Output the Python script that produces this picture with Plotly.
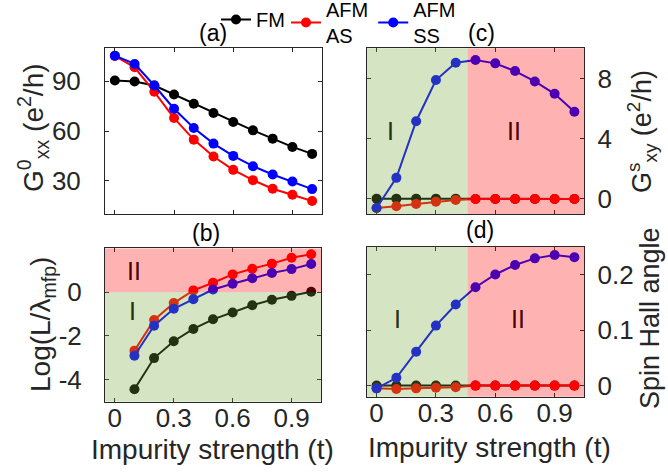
import plotly.graph_objects as go

W, H = 668, 475

# ---------------- data ----------------
x_full = [0.0, 0.1, 0.2, 0.3, 0.4, 0.5, 0.6, 0.7, 0.8, 0.9, 1.0]
x_log = [0.1, 0.2, 0.3, 0.4, 0.5, 0.6, 0.7, 0.8, 0.9, 1.0]

# (a) G0_xx (e^2/h)
gxx_fm = [90.4, 89.8, 87.4, 82.0, 76.4, 70.8, 65.4, 60.4, 55.4, 50.4, 46.2]
gxx_as = [105.2, 98.4, 83.6, 67.8, 54.8, 44.6, 36.6, 30.4, 25.2, 21.6, 17.8]
gxx_ss = [105.4, 100.4, 87.4, 73.4, 61.8, 52.4, 45.0, 38.8, 33.8, 29.6, 25.0]

# (b) Log(L/lambda_mfp)
log_fm = [-4.43, -3.01, -2.24, -1.68, -1.24, -0.93, -0.60, -0.35, -0.17, 0.02]
log_as = [-2.67, -1.27, -0.50, 0.08, 0.43, 0.81, 1.07, 1.30, 1.57, 1.73]
log_ss = [-2.90, -1.53, -0.76, -0.32, 0.12, 0.38, 0.63, 0.87, 1.05, 1.28]

# (c) Gs_xy (e^2/h)
gsxy_fm = [0.02, 0.02, 0.02, 0.02, 0.02, 0.0, 0.0, 0.0, 0.0, 0.0, 0.0]
gsxy_as = [-0.6, -0.49, -0.33, -0.18, -0.07, 0.0, 0.0, 0.0, 0.0, 0.0, 0.0]
gsxy_ss = [-0.6, 1.4, 5.16, 7.89, 9.04, 9.22, 9.0, 8.49, 7.8, 6.98, 5.79]

# (d) spin Hall angle
sha_fm = [0.0, 0.0, 0.0, 0.0, 0.0, 0.0, 0.0, 0.0, 0.0, 0.0, 0.0]
sha_as = [-0.005, -0.006, -0.005, -0.004, -0.003, 0.0, 0.0, 0.0, 0.0, 0.0, 0.0]
sha_ss = [-0.005, 0.014, 0.061, 0.108, 0.146, 0.177, 0.200, 0.217, 0.229, 0.235, 0.231]

series_names = ["FM", "AFM<br>AS", "AFM<br>SS"]
series_colors = ["#000000", "#ff0000", "#0000ff"]
series_legends = ["legend", "legend2", "legend2"]

x_tickvals = [0, 0.3, 0.6, 0.9]
x_ticktext = ["0", "0.3", "0.6", "0.9"]
a_tickvals = [30, 60, 90]
b_tickvals = [-4, -2, 0]
b_ticktext = ["-4", "-2", "0"]
c_tickvals = [0, 4, 8]
d_tickvals = [0, 0.1, 0.2]
d_ticktext = ["0", "0.1", "0.2"]
boundary_x = 0.46

FONT = "Liberation Sans, Arial, sans-serif"
AX = "#262626"

fig = go.Figure()

panels = [
    ("x", "y", x_full, [gxx_fm, gxx_as, gxx_ss], True),
    ("x2", "y2", x_log, [log_fm, log_as, log_ss], False),
    ("x3", "y3", x_full, [gsxy_fm, gsxy_as, gsxy_ss], False),
    ("x4", "y4", x_full, [sha_fm, sha_as, sha_ss], False),
]
for xa, ya, xs, ys_list, show in panels:
    for name, col, lg, ys in zip(series_names, series_colors, series_legends, ys_list):
        fig.add_trace(go.Scatter(
            x=xs, y=ys, xaxis=xa, yaxis=ya, mode="lines+markers",
            name=name, legendgroup=name, showlegend=show, legend=lg,
            line=dict(color=col, width=2),
            marker=dict(color=col, size=10),
        ))

def px_x(p):
    return p / W

def px_y(p):
    return 1 - p / H

common_x = dict(range=[-0.05, 1.05], tickvals=x_tickvals, ticktext=x_ticktext,
                ticks="inside", ticklen=4, tickcolor=AX, showline=True,
                linecolor=AX, linewidth=1, mirror="ticks", showgrid=False,
                zeroline=False, tickfont=dict(size=26, color=AX, family=FONT),
                ticklabelstandoff=-7)
common_y = dict(ticks="inside", ticklen=4, tickcolor=AX, showline=True,
                linecolor=AX, linewidth=1, mirror="ticks", showgrid=False,
                zeroline=False, tickfont=dict(size=26, color=AX, family=FONT))

legend_common = dict(orientation="h", xanchor="left", yanchor="top",
                     font=dict(size=20, color="black", family=FONT),
                     bgcolor="rgba(0,0,0,0)", itemwidth=30, valign="middle")

fig.update_layout(
    width=W, height=H,
    margin=dict(l=0, r=0, t=0, b=0, autoexpand=False),
    paper_bgcolor="white", plot_bgcolor="white",
    font=dict(family=FONT, color=AX),
    xaxis=dict(domain=[px_x(105), px_x(322)], anchor="y", showticklabels=False, **common_x),
    yaxis=dict(domain=[px_y(214), px_y(48)], anchor="x", range=[10, 110],
               tickvals=a_tickvals, ticklabelstandoff=18, **common_y),
    xaxis2=dict(domain=[px_x(105), px_x(321)], anchor="y2", **common_x),
    yaxis2=dict(domain=[px_y(401.7), px_y(248.3)], anchor="x2", range=[-5, 2],
                tickvals=b_tickvals, ticktext=b_ticktext, ticklabelstandoff=17, **common_y),
    xaxis3=dict(domain=[px_x(366.7), px_x(584.3)], anchor="y3", showticklabels=False, **common_x),
    yaxis3=dict(domain=[px_y(214), px_y(48.3)], anchor="x3", range=[-1, 10], side="right",
                tickvals=c_tickvals, ticklabelstandoff=7, **common_y),
    xaxis4=dict(domain=[px_x(366.7), px_x(584.3)], anchor="y4", **common_x),
    yaxis4=dict(domain=[px_y(396.7), px_y(246.7)], anchor="x4", range=[-0.02, 0.25], side="right",
                tickvals=d_tickvals, ticktext=d_ticktext, ticklabelstandoff=7, **common_y),
    legend=dict(x=px_x(216), y=1.0, **legend_common),
    legend2=dict(x=px_x(286), y=1 + 10 / H, **legend_common),
)

GREEN = "rgb(115,165,55)"
RED = "rgb(255,0,0)"
OP = 0.3
shapes = [
    dict(type="rect", xref="x2 domain", yref="y2", x0=0, x1=1, y0=0, y1=2,
         fillcolor=RED, opacity=OP, line_width=0, layer="above"),
    dict(type="rect", xref="x2 domain", yref="y2", x0=0, x1=1, y0=-5, y1=0,
         fillcolor=GREEN, opacity=OP, line_width=0, layer="above"),
    dict(type="rect", xref="x3", yref="y3 domain", x0=-0.05, x1=boundary_x, y0=0, y1=1,
         fillcolor=GREEN, opacity=OP, line_width=0, layer="above"),
    dict(type="rect", xref="x3", yref="y3 domain", x0=boundary_x, x1=1.05, y0=0, y1=1,
         fillcolor=RED, opacity=OP, line_width=0, layer="above"),
    dict(type="rect", xref="x4", yref="y4 domain", x0=-0.05, x1=boundary_x, y0=0, y1=1,
         fillcolor=GREEN, opacity=OP, line_width=0, layer="above"),
    dict(type="rect", xref="x4", yref="y4 domain", x0=boundary_x, x1=1.05, y0=0, y1=1,
         fillcolor=RED, opacity=OP, line_width=0, layer="above"),
]
fig.update_layout(shapes=shapes)

DARKG = "rgb(35,50,17)"
DARKR = "rgb(77,0,0)"

def ann(text, x, y, size, color="black", angle=0):
    fig.add_annotation(text=text, x=px_x(x), y=px_y(y), xref="paper", yref="paper",
                       showarrow=False, xanchor="center", yanchor="middle",
                       textangle=angle, font=dict(size=size, color=color, family=FONT))

# panel labels
ann("(a)", 213, 33, 23)
ann("(b)", 206, 233, 23)
ann("(c)", 481, 33, 23)
ann("(d)", 480, 230, 23)

# region labels
ann("II", 134, 271, 25, DARKR)
ann("I", 132, 311, 25, DARKG)
ann("I", 390, 131, 25, DARKG)
ann("II", 514, 131, 25, DARKR)
ann("I", 397, 319, 25, DARKG)
ann("II", 518, 319, 25, DARKR)

# axis titles
ann("G<sup>0</sup><sub>xx</sub> (e<sup>2</sup>/h)", 33, 128, 28, AX, -90)
ann("Log(L/λ<sub>mfp</sub>)", 42, 325, 28, AX, -90)
ann("G<sup>s</sup><sub>xy</sub> (e<sup>2</sup>/h)", 642, 132, 27, AX, -90)
ann("Spin Hall angle", 650, 318, 27, AX, -90)
ann("Impurity strength (t)", 212, 449, 28, AX)
ann("Impurity strength (t)", 489, 447, 28, AX)

fig.write_html("out.html", config={"displayModeBar": False},
               post_script="document.body.style.margin='0';")
